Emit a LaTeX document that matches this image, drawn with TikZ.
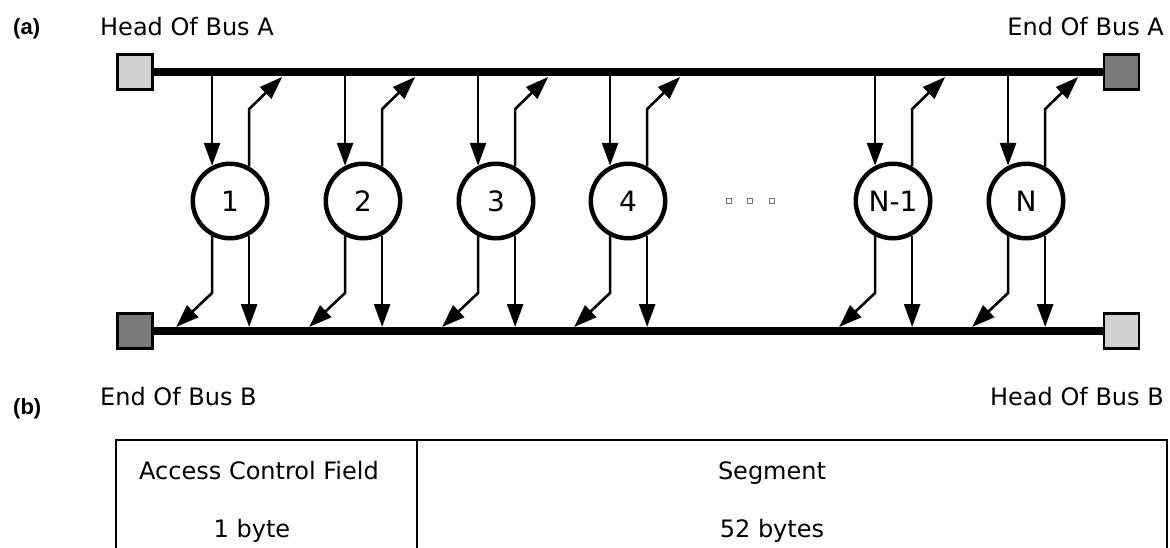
\documentclass[tikz,border=0pt]{standalone}
\usepackage{fontspec}
\setmainfont{DejaVu Sans}
\newfontfamily\tagfont{Liberation Sans}
\usetikzlibrary{arrows.meta}
\begin{document}
\begin{tikzpicture}[x=1pt,y=-1pt,
  bus/.style={line width=8.5pt},
  arr/.style={line width=2.6pt,-{Triangle[length=23pt,width=16pt]}},
  station/.style={circle,draw,line width=4.5pt,minimum size=74.5pt,inner sep=0pt,font=\fontsize{28}{28}\selectfont},
  endbox/.style={draw,line width=2.8pt,minimum size=35pt,inner sep=0pt},
  lightbox/.style={endbox,fill=black!18},
  darkbox/.style={endbox,fill=black!52},
  dotbox/.style={draw=black!55,line width=1pt,minimum size=5pt,inner sep=0pt},
  lbl/.style={font=\fontsize{24}{24}\selectfont,inner sep=0pt},
  tag/.style={font=\tagfont\bfseries\fontsize{22}{22}\selectfont,inner sep=0pt},
  tbl/.style={line width=2.6pt}
  ]
\useasboundingbox (0,0) rectangle (1170,548);
% end boxes
\node[lightbox] (hA) at (135,72) {};
\node[darkbox] (eA) at (1121.5,72) {};
\node[darkbox] (eB) at (135,331) {};
\node[lightbox] (hB) at (1121.5,331) {};
\draw[bus] (hA.east) -- (eA.west);
\draw[bus] (eB.east) -- (hB.west);
% reference coordinates
\coordinate (ya) at (0,72);
\coordinate (bendA) at (0,109);
\coordinate (bendB) at (0,293);
\coordinate (tipB) at (0,327);
% stations
\foreach \n/\cx/\t in {1/230/1,2/363/2,3/496/3,4/628/4,5/893/N-1,6/1026/N}{
  \node[station] (s\n) at (\cx,201) {\t};
  \draw[arr] (s\n.117 |- ya) -- (s\n.117);
  \draw[arr] (s\n.61) -- (s\n.61 |- bendA) -- ++(33,-32);
  \draw[arr] (s\n.243) -- (s\n.243 |- bendB) -- ++(-36,34);
  \draw[arr] (s\n.299) -- (s\n.299 |- tipB);
}
% dots
\node[dotbox] (d1) at (729,201) {};
\node[dotbox] (d2) at (750,201) {};
\node[dotbox] (d3) at (772,201) {};
% labels
\node[tag,anchor=base west] (ta) at (13,35) {(a)};
\node[lbl,anchor=base west] (headA) at (100,36) {Head Of Bus A};
\node[lbl,anchor=base east] (endA) at (1164,36) {End Of Bus A};
\node[lbl,anchor=base west] (endB) at (100,405) {End Of Bus B};
\node[lbl,anchor=base east] (headB) at (1164,405) {Head Of Bus B};
\node[tag,anchor=base west] (tb) at (13,414) {(b)};
% table (b)
\draw[tbl] (116,549) -- (116,440) -- (1167,440) -- (1167,549);
\draw[tbl] (417,440) -- (417,549);
\node[lbl,anchor=base] (acf) at (259,479) {Access Control Field};
\node[lbl,anchor=base] (oneb) at (252,537) {1 byte};
\node[lbl,anchor=base] (seg) at (772,479) {Segment};
\node[lbl,anchor=base] (fifty) at (772,537) {52 bytes};
\end{tikzpicture}
\end{document}
